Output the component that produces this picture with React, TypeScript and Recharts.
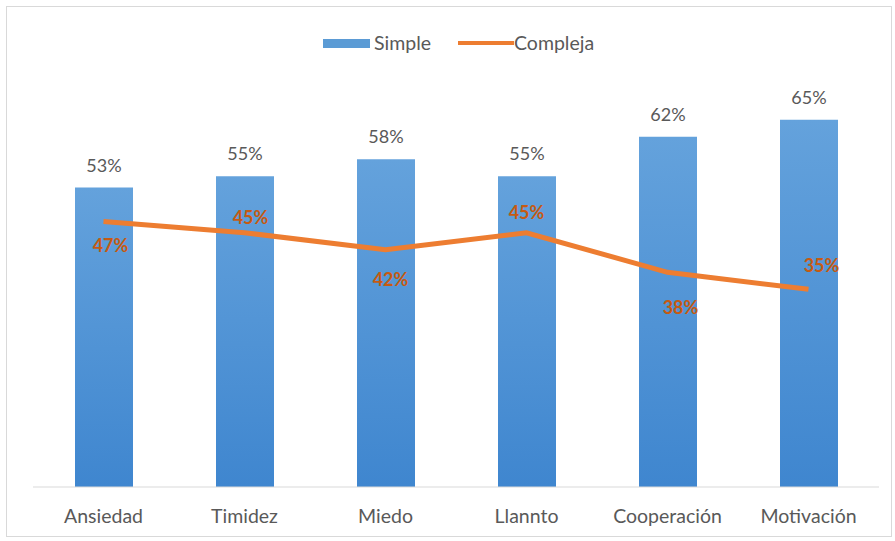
import React from "react";
import { ComposedChart, Bar, Line, XAxis, YAxis, LabelList } from "recharts";

const categories = ["Ansiedad", "Timidez", "Miedo", "Llannto", "Cooperación", "Motivación"];
const simpleValues = [53, 55, 58, 55, 62, 65];
const complejaValues = [47, 45, 42, 45, 38, 35];
const complejaLabelDx = [7, 6, 5, 0, 13, 13];
const complejaLabelDy = [24, -16, 29, -21, 35, -24];

const data = categories.map((c, i) => ({ name: c, simple: simpleValues[i], compleja: complejaValues[i] }));

const FONT = "Lato, 'Open Sans', sans-serif";

const ComplejaLabel = (props: any) => {
  const { x, y, value, index } = props;
  return (
    <text
      x={x + complejaLabelDx[index]}
      y={y + complejaLabelDy[index]}
      textAnchor="middle"
      dominantBaseline="central"
      fill="#c65a12"
      fontWeight="bold"
      fontSize={18}
      fontFamily={FONT}
    >
      {value}%
    </text>
  );
};

export default function App() {
  return (
    <div style={{ position: "absolute", left: 0, top: 0, width: 895, height: 541, background: "#fff", fontFamily: FONT }}>
      <div style={{ position: "absolute", left: 6, top: 6, width: 886, height: 531, border: "1px solid #d9d9d9", boxSizing: "border-box" }} />
      <div style={{ position: "absolute", left: 323, top: 39, width: 47, height: 9, background: "#5b9bd5" }} />
      <div style={{ position: "absolute", left: 374, top: 31, fontSize: 19.5, color: "#595959", lineHeight: "24px" }}>Simple</div>
      <div style={{ position: "absolute", left: 458, top: 41, width: 56, height: 4, background: "#ed7d31" }} />
      <div style={{ position: "absolute", left: 514, top: 31, fontSize: 19.5, color: "#595959", lineHeight: "24px" }}>Compleja</div>
      <div style={{ position: "absolute", left: 0, top: 0 }}>
        <ComposedChart width={895} height={541} data={data} margin={{ top: 91.5, right: 16, bottom: 14, left: 33 }}>
          <defs>
            <linearGradient id="barGrad" x1="0" y1="0" x2="0" y2="1">
              <stop offset="0%" stopColor="#64a2dc" />
              <stop offset="100%" stopColor="#3f86cf" />
            </linearGradient>
          </defs>
          <XAxis
            dataKey="name"
            height={40}
            axisLine={{ stroke: "#d9d9d9", strokeWidth: 1 }}
            tickLine={false}
            tick={{ fill: "#595959", fontSize: 19.5, fontFamily: FONT }}
            tickMargin={16}
            interval={0}
          />
          <YAxis hide domain={[0, 70]} />
          <Bar dataKey="simple" fill="url(#barGrad)" barSize={58} isAnimationActive={false}>
            <LabelList
              dataKey="simple"
              position="top"
              offset={16}
              formatter={(v: any) => `${v}%`}
              style={{ fill: "#595959", fontSize: 18, fontFamily: FONT }}
            />
          </Bar>
          <Line
            dataKey="compleja"
            stroke="#ed7d31"
            strokeWidth={5}
            dot={false}
            activeDot={false}
            isAnimationActive={false}
          >
            <LabelList dataKey="compleja" content={<ComplejaLabel />} />
          </Line>
        </ComposedChart>
      </div>
    </div>
  );
}
